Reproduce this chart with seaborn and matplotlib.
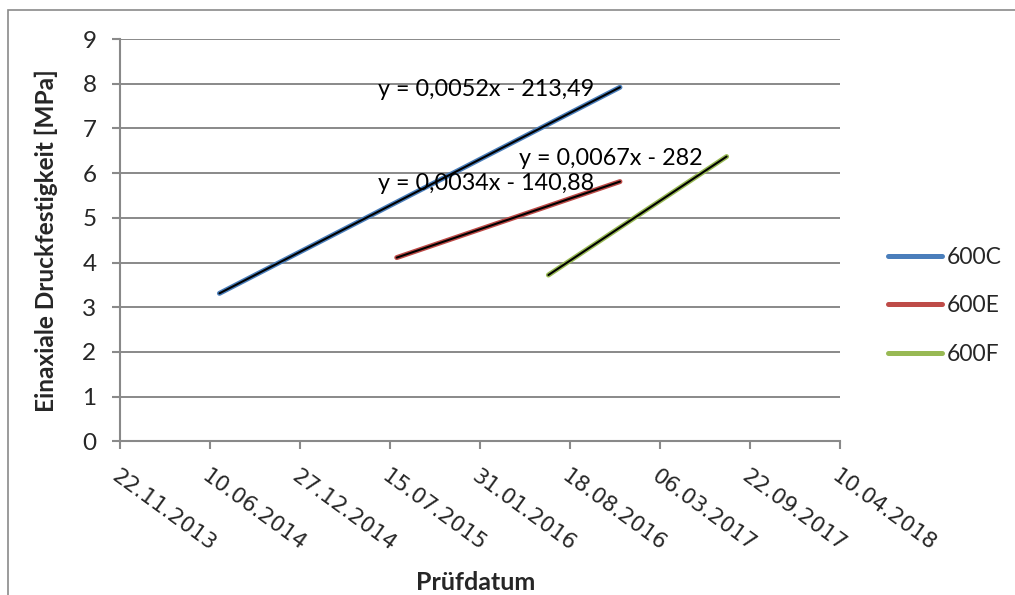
import numpy as np
import pandas as pd
import matplotlib
matplotlib.use("Agg")
import matplotlib.pyplot as plt
import matplotlib.dates as mdates
from matplotlib.lines import Line2D
from matplotlib.patches import Rectangle
import seaborn as sns

# Test series: compressive strength over test date
series = ["600C", "600E", "600F"]
dates_600C = ["2014-07-01", "2016-12-07"]
values_600C = [3.31, 7.92]
dates_600E = ["2015-07-30", "2016-12-07"]
values_600E = [4.11, 5.81]
dates_600F = ["2016-07-01", "2017-08-01"]
values_600F = [3.72, 6.37]
trend_labels = ["y = 0,0052x - 213,49", "y = 0,0034x - 140,88", "y = 0,0067x - 282"]

x_start = "2013-11-22"
x_step_days = 200
n_x_ticks = 9
y_ticks = list(range(0, 10))

colors = ["#4A7EBB", "#BE4B48", "#98B954"]
palette = dict(zip(series, colors))

# long-form table with matplotlib date numbers on x
frames = []
for name, d, v in zip(series,
                      [dates_600C, dates_600E, dates_600F],
                      [values_600C, values_600E, values_600F]):
    frames.append(pd.DataFrame({
        "Prüfdatum": mdates.date2num(pd.to_datetime(d)),
        "Festigkeit": v,
        "Serie": name,
    }))
df = pd.concat(frames, ignore_index=True)

sns.set_style("white")
plt.rcParams["font.family"] = ["Lato", "DejaVu Sans"]

fig = plt.figure(figsize=(10.15, 5.95), dpi=100)
ax = fig.add_axes([0.11823, 0.25832, 0.70936, 0.67613])

sns.lineplot(data=df, x="Prüfdatum", y="Festigkeit", hue="Serie",
             palette=palette, lw=3.6, solid_capstyle="round",
             estimator=None, legend=False, ax=ax, zorder=3)

# linear trend lines on top of each series
for name in series:
    sub = df[df["Serie"] == name]
    sns.regplot(data=sub, x="Prüfdatum", y="Festigkeit", scatter=False,
                ci=None, color="black", truncate=True, ax=ax,
                line_kws=dict(lw=1.5, solid_capstyle="round", zorder=4))

# trend equations
eq_pos = [(0.3583, 0.8583), (0.3583, 0.6247), (0.5542, 0.6868)]
for text, (tx, ty) in zip(trend_labels, eq_pos):
    ax.text(tx, ty, text, transform=ax.transAxes, ha="left", va="baseline",
            fontsize=16.8, color="black", zorder=5)

# axes
tick_dates = pd.date_range(x_start, periods=n_x_ticks, freq=f"{x_step_days}D")
x_ticks = mdates.date2num(tick_dates)
ax.set_xlim(x_ticks[0], x_ticks[-1])
ax.set_ylim(y_ticks[0], y_ticks[-1])
ax.set_xticks(x_ticks)
ax.set_yticks(y_ticks)
ax.xaxis.set_major_formatter(mdates.DateFormatter("%d.%m.%Y"))

grid_gray = "#898989"
ax.set_axisbelow(True)
ax.yaxis.grid(True, color=grid_gray, lw=1.4)
ax.xaxis.grid(False)
for side in ["top", "right"]:
    ax.spines[side].set_visible(False)
for side in ["left", "bottom"]:
    ax.spines[side].set_color(grid_gray)
    ax.spines[side].set_linewidth(1.5)

ax.tick_params(axis="both", direction="out", color=grid_gray, width=1.5,
               length=6, bottom=True, left=True)
ax.tick_params(axis="y", pad=11, labelsize=17.5)
ax.tick_params(axis="x", pad=12)
for lab in ax.get_xticklabels():
    lab.set_rotation(-36)
    lab.set_ha("left")
    lab.set_va("top")
    lab.set_rotation_mode("anchor")
    lab.set_family("DejaVu Sans")
    lab.set_fontsize(15.5)

ax.set_xlabel("Prüfdatum", fontsize=18, fontweight="bold", va="center")
ax.xaxis.set_label_coords(0.494, -0.352)
ax.set_ylabel("Einaxiale Druckfestigkeit [MPa]", fontsize=17.6,
              fontweight="bold", va="center")
ax.yaxis.set_label_coords(-0.1028, 0.5)

handles = [Line2D([], [], color=palette[s], lw=3.6, solid_capstyle="round")
           for s in series]
fig.legend(handles, series, loc="center left",
           bbox_to_anchor=(888 / 1015, 1 - 306 / 595), frameon=False,
           fontsize=16.5, handlelength=2.35, handletextpad=0.22,
           labelspacing=1.22, borderpad=0, borderaxespad=0)

# chart frame
fig.add_artist(Rectangle((7.5 / 1015, -0.1), 1.2, 1 - 9.7 / 595 + 0.1,
                         transform=fig.transFigure, fill=False,
                         ec="#8a8a8a", lw=1.2))

fig.savefig("out.png", dpi=100)
